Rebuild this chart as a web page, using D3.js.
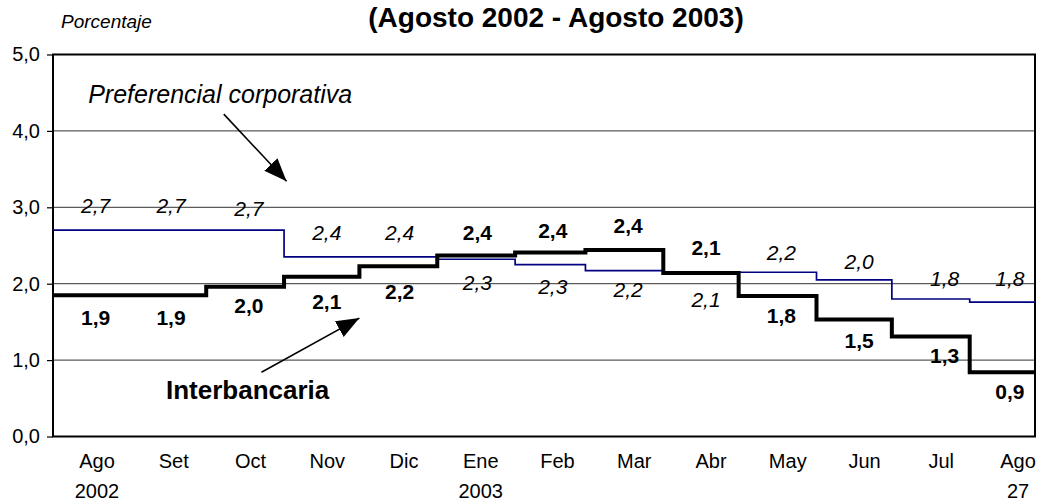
<!DOCTYPE html>
<html>
<head>
<meta charset="utf-8">
<script src="https://cdn.jsdelivr.net/npm/d3@7"></script>
<style>
  body { margin: 0; background: #fff; }
  svg { display: block; }
  text { font-family: Arial, "Liberation Sans", sans-serif; fill: #000; }
</style>
</head>
<body>
<svg id="chart" width="1042" height="502"></svg>
<script>
// axis labels, one per month
const months = ['Ago','Set','Oct','Nov','Dic','Ene','Feb','Mar','Abr','May','Jun','Jul','Ago'];
const years  = ['2002','','','','','2003','','','','','','','27'];

// daily rates: date where each level starts, and the level (%)
const interDates  = ['2002-08-01','2002-10-01','2002-11-01','2002-12-01','2003-01-01','2003-02-01','2003-03-01','2003-04-01','2003-05-01','2003-06-01','2003-07-01','2003-08-01'];
const interValues = [1.85, 1.96, 2.09, 2.23, 2.37, 2.41, 2.44, 2.14, 1.84, 1.53, 1.31, 0.84];
const prefDates   = ['2002-08-01','2002-11-01','2003-01-01','2003-02-01','2003-03-01','2003-04-01','2003-06-01','2003-07-01','2003-08-01'];
const prefValues  = [2.70, 2.35, 2.32, 2.25, 2.17, 2.15, 2.05, 1.80, 1.76];
const lastDate = '2003-08-27';

// monthly averages written on the chart
const interMonthly = [1.9, 1.9, 2.0, 2.1, 2.2, 2.4, 2.4, 2.4, 2.1, 1.8, 1.5, 1.3, 0.9];
const prefMonthly  = [2.7, 2.7, 2.7, 2.4, 2.4, 2.3, 2.3, 2.2, 2.1, 2.2, 2.0, 1.8, 1.8];

// where the monthly labels sit: date (centre) and value (text baseline)
const labelDates   = ['2002-08-18','2002-09-17','2002-10-18','2002-11-18','2002-12-17','2003-01-17','2003-02-16','2003-03-18','2003-04-18','2003-05-18','2003-06-18','2003-07-22','2003-08-17'];
const interLabelAt = [1.46, 1.46, 1.62, 1.67, 1.80, 2.57, 2.60, 2.66, 2.38, 1.49, 1.16, 0.96, 0.49];
const prefLabelAt  = [2.93, 2.93, 2.89, 2.57, 2.57, 1.92, 1.86, 1.83, 1.70, 2.31, 2.19, 1.97, 1.97];

const yTicks = [0, 1, 2, 3, 4, 5];

/************************************************************/

const parse = d3.timeParse('%Y-%m-%d');
const es = d3.formatLocale({ decimal: ',', thousands: '.', grouping: [3], currency: ['', ''] });
const f1 = es.format('.1f');

const svg = d3.select('#chart');
const pLeft = 53, pRight = 1035, pTop = 54.5, pBottom = 436.5;

const x = d3.scaleTime().domain([parse('2002-08-01'), parse(lastDate)]).range([pLeft, pRight]);
const xm = d3.scalePoint().domain(d3.range(months.length)).range([97, 1018]);
const y = d3.scaleLinear().domain([0, 5]).range([pBottom, pTop]);

// gridlines
svg.append('g').selectAll('line').data(yTicks.filter(d => d > 0 && d < 5)).join('line')
    .attr('x1', pLeft).attr('x2', pRight)
    .attr('y1', d => y(d)).attr('y2', d => y(d))
    .style('stroke', '#333').style('stroke-width', 1);

// y axis
const yAxis = svg.append('g').attr('transform', `translate(${pLeft},0)`)
    .call(d3.axisLeft(y).tickValues(yTicks).tickFormat(f1).tickSize(6).tickPadding(7));
yAxis.select('.domain').remove();
yAxis.selectAll('line').style('stroke', '#000').style('stroke-width', 1.2);
yAxis.selectAll('text').style('font-size', '20px').style('font-family', 'Arial, "Liberation Sans", sans-serif');

// plot frame
svg.append('rect')
    .attr('x', pLeft).attr('y', pTop).attr('width', pRight - pLeft).attr('height', pBottom - pTop)
    .style('fill', 'none').style('stroke', '#000').style('stroke-width', 2);

// x labels
const xl = svg.append('g');
xl.selectAll('text.m').data(months).join('text').attr('class', 'm')
    .attr('x', (d, i) => xm(i)).attr('y', 468)
    .attr('text-anchor', 'middle').style('font-size', '20px').text(d => d);
xl.selectAll('text.yr').data(years).join('text').attr('class', 'yr')
    .attr('x', (d, i) => xm(i)).attr('y', 498)
    .attr('text-anchor', 'middle').style('font-size', '20px').text(d => d);

// series
function steps(dates, values){
    const pts = dates.map((d, i) => [parse(d), values[i]]);
    pts.push([parse(lastDate), values[values.length - 1]]);
    return pts;
}
const line = d3.line().x(d => x(d[0])).y(d => y(d[1])).curve(d3.curveStepAfter);

svg.append('path').datum(steps(prefDates, prefValues))
    .attr('d', line).style('fill', 'none').style('stroke', '#000080').style('stroke-width', 1.7);
svg.append('path').datum(steps(interDates, interValues))
    .attr('d', line).style('fill', 'none').style('stroke', '#000').style('stroke-width', 4);

// monthly labels
svg.append('g').selectAll('text').data(prefMonthly).join('text')
    .attr('x', (d, i) => x(parse(labelDates[i]))).attr('y', (d, i) => y(prefLabelAt[i]))
    .attr('text-anchor', 'middle')
    .style('font-size', '21px').style('font-style', 'italic').text(d => f1(d));
svg.append('g').selectAll('text').data(interMonthly).join('text')
    .attr('x', (d, i) => x(parse(labelDates[i]))).attr('y', (d, i) => y(interLabelAt[i]))
    .attr('text-anchor', 'middle')
    .style('font-size', '21px').style('font-weight', 'bold').text(d => f1(d));

// arrows and series names
svg.append('defs').append('marker')
    .attr('id', 'head').attr('viewBox', '0 -10 24 20')
    .attr('refX', 23).attr('refY', 0)
    .attr('markerWidth', 24).attr('markerHeight', 20)
    .attr('markerUnits', 'userSpaceOnUse').attr('orient', 'auto')
    .append('path').attr('d', 'M0,-9L23,0L0,9Z').style('fill', '#000');

const arrows = [
    [['2002-10-08', 4.22], ['2002-11-02', 3.34]],
    [['2002-10-23', 0.84], ['2002-12-01', 1.55]]
];
svg.append('g').selectAll('line').data(arrows).join('line')
    .attr('x1', d => x(parse(d[0][0]))).attr('y1', d => y(d[0][1]))
    .attr('x2', d => x(parse(d[1][0]))).attr('y2', d => y(d[1][1]))
    .style('stroke', '#000').style('stroke-width', 1.6)
    .attr('marker-end', 'url(#head)');

svg.append('text')
    .attr('x', x(parse('2002-08-15'))).attr('y', y(4.365))
    .style('font-size', '25px').style('font-style', 'italic')
    .text('Preferencial corporativa');
svg.append('text')
    .attr('x', x(parse('2002-09-15'))).attr('y', y(0.49))
    .style('font-size', '26px').style('font-weight', 'bold')
    .text('Interbancaria');

// titles
svg.append('text').attr('x', 556).attr('y', 27).attr('text-anchor', 'middle')
    .style('font-size', '28px').style('font-weight', 'bold')
    .text('(Agosto 2002 - Agosto 2003)');
svg.append('text').attr('x', 61).attr('y', 28)
    .style('font-size', '19px').style('font-style', 'italic')
    .text('Porcentaje');
</script>
</body>
</html>
